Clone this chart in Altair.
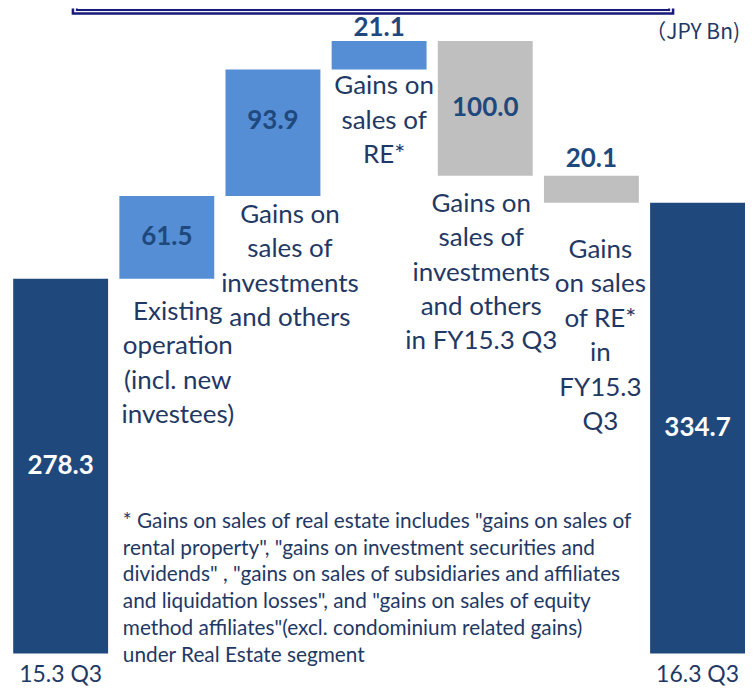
import altair as alt
import pandas as pd

# ---------------- data ----------------
categories = [
    "15.3 Q3",
    "Existing operation",
    "Gains on sales of investments",
    "Gains on sales of RE*",
    "Gains on sales of investments in FY15.3 Q3",
    "Gains on sales of RE* in FY15.3 Q3",
    "16.3 Q3",
]
amounts = [278.3, 61.5, 93.9, 21.1, -100.0, -20.1, 334.7]
kinds = ["total", "increase", "increase", "increase", "decrease", "decrease", "total"]
value_labels = ["278.3", "61.5", "93.9", "21.1", "100.0", "20.1", "334.7"]
step_labels = [
    "",
    "Existing\noperation\n(incl. new\ninvestees)",
    "Gains on\nsales of\ninvestments\nand others",
    "Gains on\nsales of\nRE*",
    "Gains on\nsales of\ninvestments\nand others\nin FY15.3 Q3",
    "Gains\non sales\nof RE*\nin\nFY15.3\nQ3",
    "",
]
footnote_lines = [
    '* Gains on sales of real estate includes  "gains on sales of',
    'rental property",  "gains on investment  securities  and',
    'dividends"  , "gains on sales of subsidiaries  and affiliates',
    'and liquidation  losses",  and "gains on sales of equity',
    'method affiliates"(excl. condominium  related gains)',
    'under  Real Estate segment',
]
unit_label = "（JPY Bn)"

# ---------------- build table ----------------
rows = []
running = 0.0
for c, a, k, vl, sl in zip(categories, amounts, kinds, value_labels, step_labels):
    if k == "total":
        lo, hi = 0.0, a
        running = a
    else:
        lo, hi = sorted([running, running + a])
        running += a
    rows.append(dict(cat=c, lo=lo, hi=hi, mid=(lo + hi) / 2, kind=k,
                     vlabel=vl, slabel=sl, inside=(hi - lo) > 40))
df = pd.DataFrame(rows)

FONT = "Lato"
NAVY_TEXT = "#1F3864"
W, H = 738, 646

xenc = alt.X("cat:N", sort=categories,
             scale=alt.Scale(paddingInner=0.106, paddingOuter=0.0245, align=1),
             axis=alt.Axis(title=None, ticks=False, domain=False, labelAngle=0,
                           labelFontSize=23, labelColor=NAVY_TEXT, labelFont=FONT,
                           labelPadding=10, labelBaseline="top",
                           labelExpr="indexof(['15.3 Q3','16.3 Q3'], datum.label) >= 0 ? datum.label : ''"))
yscale = alt.Scale(domain=[0, 479], nice=False, zero=False)

base = alt.Chart(df)

# decorative frame bottom (title box cut off at the top of the slide)
frame_outer = alt.Chart(pd.DataFrame({"k": ["outer"]})).mark_rect(
    fill="#F4F6FB", stroke="#1A1A7A", strokeWidth=2.5, clip=True
).encode(x=alt.value(65), x2=alt.value(666), y=alt.value(-30), y2=alt.value(5))
frame_inner = alt.Chart(pd.DataFrame({"k": ["inner"]})).mark_rect(
    fill="none", stroke="#1A1A7A", strokeWidth=2, clip=True
).encode(x=alt.value(69), x2=alt.value(662), y=alt.value(-30), y2=alt.value(1.5))

bars = base.mark_bar().encode(
    x=xenc,
    y=alt.Y("lo:Q", scale=yscale, axis=None),
    y2="hi:Q",
    color=alt.Color("kind:N", legend=None,
                    scale=alt.Scale(domain=["total", "increase", "decrease"],
                                    range=["#1F497D", "#558ED5", "#BFBFBF"])),
)

# value labels inside the tall bars; small vertical nudges are style only
value_nudge = {categories[2]: -12}
inside_layers = []
for cat in [c for c, r in zip(categories, rows) if r["inside"]]:
    inside_layers.append(
        base.transform_filter(alt.datum.cat == cat).mark_text(
            font=FONT, fontWeight="bold", fontSize=26, baseline="middle",
            dy=value_nudge.get(cat, 0)
        ).encode(
            x=alt.X("cat:N", sort=categories),
            y=alt.Y("mid:Q", scale=yscale),
            text="vlabel:N",
            color=alt.condition("datum.kind == 'total'", alt.value("white"), alt.value("#1F497D")),
        )
    )

# value labels above the thin bars
above_nudge = {categories[3]: 0, categories[5]: -4}
above_layers = []
for cat in [c for c, r in zip(categories, rows) if not r["inside"]]:
    above_layers.append(
        base.transform_filter(alt.datum.cat == cat).mark_text(
            font=FONT, fontWeight="bold", fontSize=26, baseline="bottom",
            dy=above_nudge.get(cat, -4), color="#1F497D"
        ).encode(
            x=alt.X("cat:N", sort=categories),
            y=alt.Y("hi:Q", scale=yscale),
            text="vlabel:N",
        )
    )

# per-step label nudges (dx, dy) in pixels -- style, not data
label_nudge = {
    categories[1]: (11, 20),
    categories[2]: (17, 6),
    categories[3]: (5, 4),
    categories[4]: (-4, 15),
    categories[5]: (9, 34),
}
step_layers = []
for cat, (dx, dy) in label_nudge.items():
    step_layers.append(
        base.transform_filter(alt.datum.cat == cat).mark_text(
            font=FONT, fontSize=26, baseline="top", align="center",
            lineBreak="\n", lineHeight=34.5, color=NAVY_TEXT, dx=dx, dy=dy
        ).encode(
            x=alt.X("cat:N", sort=categories),
            y=alt.Y("lo:Q", scale=yscale),
            text="slabel:N",
        )
    )

foot_df = pd.DataFrame({"t": ["\n".join(footnote_lines)]})
footnote = alt.Chart(foot_df).mark_text(
    font=FONT, fontSize=20.8, align="left", baseline="top", lineBreak="\n",
    lineHeight=26.8, color=NAVY_TEXT
).encode(x=alt.value(115), y=alt.value(504), text="t:N")

unit = alt.Chart(pd.DataFrame({"t": [unit_label]})).mark_text(
    font="Noto Sans CJK JP", fontSize=21, align="right", baseline="middle", color=NAVY_TEXT
).encode(x=alt.value(733), y=alt.value(25), text="t:N")

chart = alt.layer(
    frame_outer, frame_inner, bars, *inside_layers, *above_layers, *step_layers, footnote, unit
).properties(width=W, height=H, padding=0).configure_view(stroke=None)

chart.save("out.html", embed_options={"renderer": "svg", "actions": False})
